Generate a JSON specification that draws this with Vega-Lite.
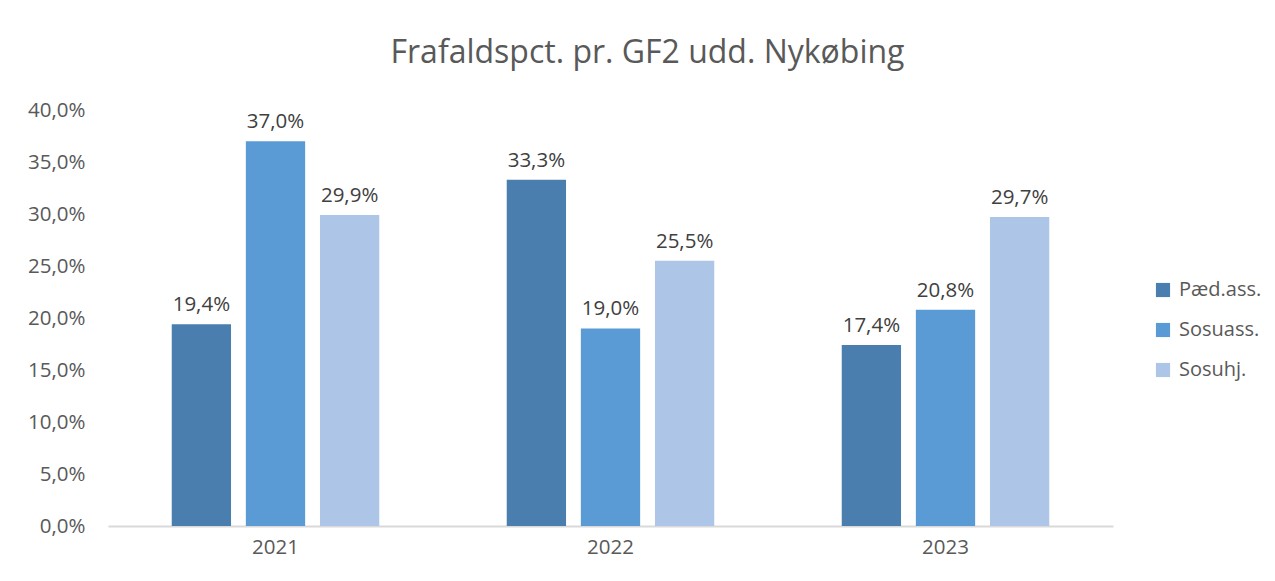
{
  "$schema": "https://vega.github.io/schema/vega-lite/v6.json",
  "width": 1005,
  "height": 416,
  "autosize": {"type": "none"},
  "padding": {"left": 108, "top": 110, "right": 162, "bottom": 55},
  "background": "white",
  "config": {
    "locale": {"number": {"decimal": ",", "thousands": ".", "grouping": [3], "currency": ["", " kr."]}},
    "font": "Open Sans",
    "view": {"stroke": null}
  },
  "title": {
    "text": "Frafaldspct. pr. GF2 udd. Nykøbing",
    "fontSize": 32,
    "font": "Open Sans",
    "fontWeight": "normal",
    "color": "#595959",
    "anchor": "middle",
    "dx": 37,
    "offset": 30
  },
  "data": {
    "values": [
      {"year": "2021", "series": "Pæd.ass.", "value": 0.194},
      {"year": "2021", "series": "Sosuass.", "value": 0.370},
      {"year": "2021", "series": "Sosuhj.", "value": 0.299},
      {"year": "2022", "series": "Pæd.ass.", "value": 0.333},
      {"year": "2022", "series": "Sosuass.", "value": 0.190},
      {"year": "2022", "series": "Sosuhj.", "value": 0.255},
      {"year": "2023", "series": "Pæd.ass.", "value": 0.174},
      {"year": "2023", "series": "Sosuass.", "value": 0.208},
      {"year": "2023", "series": "Sosuhj.", "value": 0.297}
    ]
  },
  "encoding": {
    "x": {
      "field": "year", "type": "nominal",
      "scale": {"paddingInner": 0, "paddingOuter": 0},
      "axis": {
        "title": null, "labelAngle": 0, "ticks": false,
        "domainColor": "#d9d9d9", "domainWidth": 2,
        "labelFontSize": 20.5, "labelColor": "#595959", "labelPadding": 11,
        "labelFont": "Open Sans"
      }
    },
    "xOffset": {
      "field": "series", "type": "nominal",
      "sort": ["Pæd.ass.", "Sosuass.", "Sosuhj."],
      "scale": {"paddingInner": 0.2, "paddingOuter": 0.86}
    },
    "y": {
      "field": "value", "type": "quantitative",
      "scale": {"domain": [0, 0.4]},
      "axis": {
        "title": null, "format": ".1%", "values": [0, 0.05, 0.1, 0.15, 0.2, 0.25, 0.3, 0.35, 0.4],
        "domain": false, "ticks": false, "grid": false,
        "labelFontSize": 20.5, "labelColor": "#595959", "labelPadding": 23,
        "labelFont": "Open Sans"
      }
    }
  },
  "layer": [
    {
      "mark": {"type": "bar"},
      "encoding": {
        "color": {
          "field": "series", "type": "nominal",
          "sort": ["Pæd.ass.", "Sosuass.", "Sosuhj."],
          "scale": {"domain": ["Pæd.ass.", "Sosuass.", "Sosuhj."], "range": ["#4a7eae", "#5b9bd5", "#adc5e6"]},
          "legend": {
            "title": null, "orient": "none", "legendX": 1045, "legendY": 170,
            "symbolType": "square", "symbolSize": 200, "symbolStrokeWidth": 0,
            "labelFontSize": 20, "labelColor": "#595959", "labelFont": "Open Sans",
            "rowPadding": 20, "labelOffset": 6
          }
        }
      }
    },
    {
      "mark": {"type": "text", "baseline": "bottom", "dy": -9, "fontSize": 20.5, "color": "#404040", "font": "Open Sans"},
      "encoding": {
        "text": {"field": "value", "type": "quantitative", "format": ".1%"}
      }
    }
  ]
}
